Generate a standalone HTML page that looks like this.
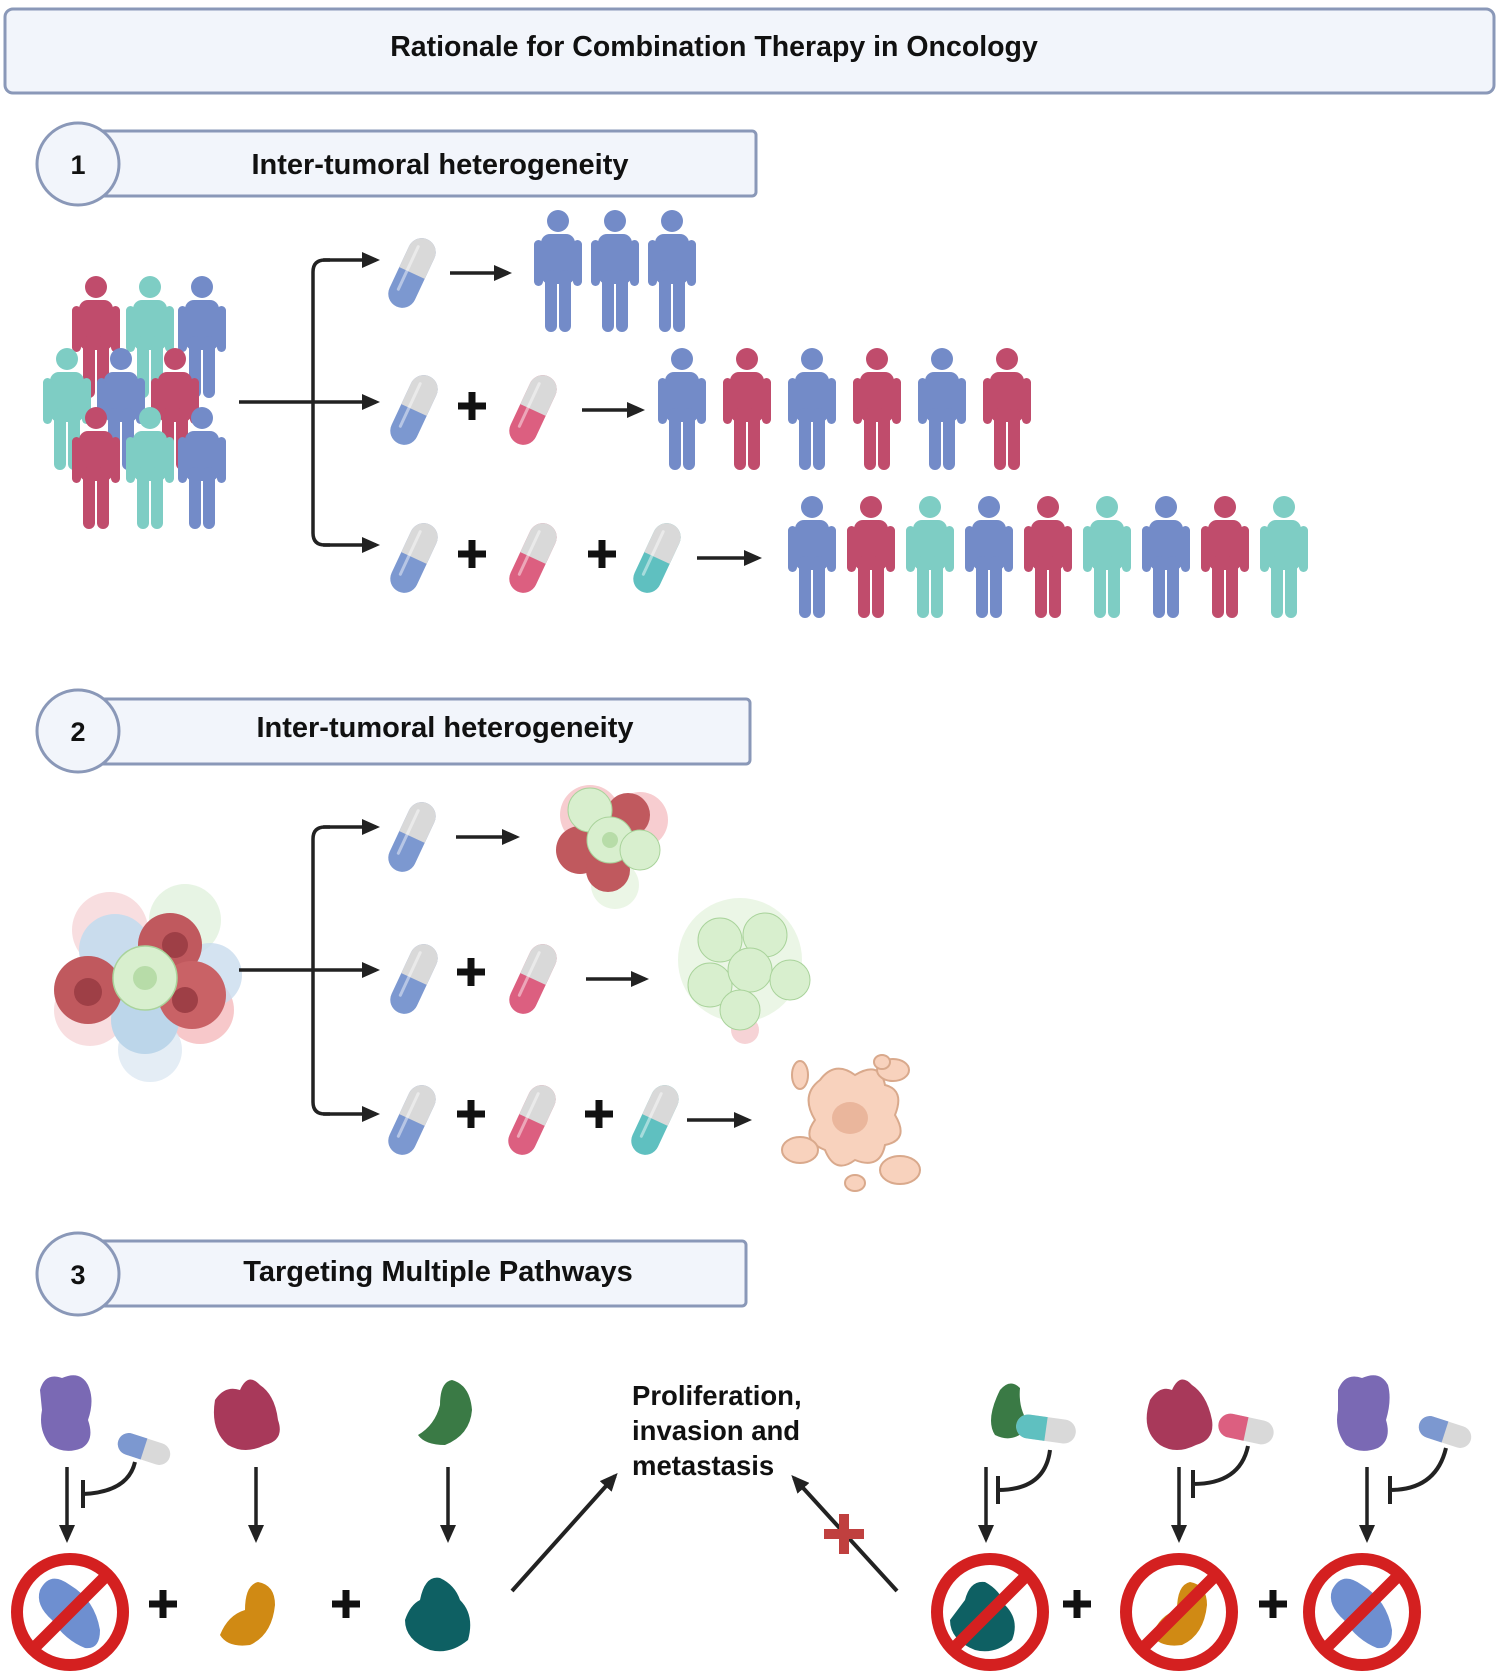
<!DOCTYPE html>
<html><head><meta charset="utf-8"><style>
html,body{margin:0;padding:0;background:#fff;}
svg{display:block;}
text{font-family:"Liberation Sans",Arial,sans-serif;font-weight:bold;fill:#111;}
</style></head><body>
<svg width="1500" height="1676" viewBox="0 0 1500 1676" xmlns="http://www.w3.org/2000/svg">
<defs>
<g id="person">
<circle cx="25" cy="11" r="11"/>
<rect x="8" y="24" width="34" height="50" rx="9"/>
<rect x="1" y="30" width="9" height="46" rx="4.5"/>
<rect x="40" y="30" width="9" height="46" rx="4.5"/>
<rect x="12" y="60" width="12" height="62" rx="6"/>
<rect x="26" y="60" width="12" height="62" rx="6"/>
</g>
<g id="pillbase">
<rect x="-14" y="-37" width="28" height="74" rx="14"/>
<path d="M-14,0 V-23 A14,14 0 0 1 14,-23 V0 Z" fill="#d9d9d9"/>
<rect x="-7" y="-28" width="3" height="50" rx="1.5" fill="#fff" opacity="0.45"/>
</g>
<marker id="ah" markerWidth="18" markerHeight="16" refX="14" refY="8" orient="auto" markerUnits="userSpaceOnUse" viewBox="0 0 18 16"><path d="M0,0 L18,8 L0,16 Z" fill="#222"/></marker>
<g id="plus"><rect x="-14" y="-3.5" width="28" height="7" fill="#111"/><rect x="-3.5" y="-14" width="7" height="28" fill="#111"/></g>
<g id="nosign"><circle r="53" fill="none" stroke="#d42020" stroke-width="12"/><line x1="37" y1="-37" x2="-37" y2="37" stroke="#d42020" stroke-width="12"/></g>
</defs>

<rect x="5" y="9" width="1489" height="84" rx="8" fill="#f2f5fb" stroke="#8a98b8" stroke-width="3"/>
<text x="714" y="56" font-size="28.5" text-anchor="middle">Rationale for Combination Therapy in Oncology</text>

<g stroke="#8a98b8" stroke-width="3" fill="#f2f5fb">
<rect x="96" y="131" width="660" height="65" rx="4"/>
<circle cx="78" cy="164" r="41"/>
<rect x="96" y="699" width="654" height="65" rx="4"/>
<circle cx="78" cy="731" r="41"/>
<rect x="96" y="1241" width="650" height="65" rx="4"/>
<circle cx="78" cy="1274" r="41"/>
</g>
<text x="78" y="174" font-size="27" text-anchor="middle">1</text>
<text x="440" y="174" font-size="29" text-anchor="middle">Inter-tumoral heterogeneity</text>
<text x="78" y="741" font-size="27" text-anchor="middle">2</text>
<text x="445" y="737" font-size="29" text-anchor="middle">Inter-tumoral heterogeneity</text>
<text x="78" y="1284" font-size="27" text-anchor="middle">3</text>
<text x="438" y="1281" font-size="29" text-anchor="middle">Targeting Multiple Pathways</text>

<g>
<use href="#person" x="71" y="276" fill="#c04c6c"/>
<use href="#person" x="125" y="276" fill="#7ecdc4"/>
<use href="#person" x="177" y="276" fill="#738bc8"/>
<use href="#person" x="42" y="348" fill="#7ecdc4"/>
<use href="#person" x="96" y="348" fill="#738bc8"/>
<use href="#person" x="150" y="348" fill="#c04c6c"/>
<use href="#person" x="71" y="407" fill="#c04c6c"/>
<use href="#person" x="125" y="407" fill="#7ecdc4"/>
<use href="#person" x="177" y="407" fill="#738bc8"/>
</g>
<g stroke="#222" stroke-width="3.5" fill="none">
<line x1="239" y1="402" x2="376" y2="402" marker-end="url(#ah)"/>
<path d="M330,260 H325 Q313,260 313,272 V533 Q313,545 325,545 H330"/>
<line x1="323" y1="260" x2="376" y2="260" marker-end="url(#ah)"/>
<line x1="323" y1="545" x2="376" y2="545" marker-end="url(#ah)"/>
<line x1="450" y1="273" x2="508" y2="273" marker-end="url(#ah)"/>
<line x1="582" y1="410" x2="641" y2="410" marker-end="url(#ah)"/>
<line x1="697" y1="558" x2="758" y2="558" marker-end="url(#ah)"/>
</g>
<use href="#pillbase" fill="#7c98d0" transform="translate(412,273) rotate(25)"/>
<use href="#pillbase" fill="#7c98d0" transform="translate(414,410) rotate(25)"/>
<use href="#plus" x="472" y="406"/>
<use href="#pillbase" fill="#dc5f80" transform="translate(533,410) rotate(25)"/>
<use href="#pillbase" fill="#7c98d0" transform="translate(414,558) rotate(25)"/>
<use href="#plus" x="472" y="554"/>
<use href="#pillbase" fill="#dc5f80" transform="translate(533,558) rotate(25)"/>
<use href="#plus" x="602" y="554"/>
<use href="#pillbase" fill="#5fc0c0" transform="translate(657,558) rotate(25)"/>
<g fill="#738bc8">
<use href="#person" x="533" y="210"/><use href="#person" x="590" y="210"/><use href="#person" x="647" y="210"/>
</g>
<use href="#person" x="657" y="348" fill="#738bc8"/>
<use href="#person" x="722" y="348" fill="#c04c6c"/>
<use href="#person" x="787" y="348" fill="#738bc8"/>
<use href="#person" x="852" y="348" fill="#c04c6c"/>
<use href="#person" x="917" y="348" fill="#738bc8"/>
<use href="#person" x="982" y="348" fill="#c04c6c"/>
<use href="#person" x="787" y="496" fill="#738bc8"/>
<use href="#person" x="846" y="496" fill="#c04c6c"/>
<use href="#person" x="905" y="496" fill="#7ecdc4"/>
<use href="#person" x="964" y="496" fill="#738bc8"/>
<use href="#person" x="1023" y="496" fill="#c04c6c"/>
<use href="#person" x="1082" y="496" fill="#7ecdc4"/>
<use href="#person" x="1141" y="496" fill="#738bc8"/>
<use href="#person" x="1200" y="496" fill="#c04c6c"/>
<use href="#person" x="1259" y="496" fill="#7ecdc4"/>

<g>
<circle cx="110" cy="930" r="38" fill="#f4c8cc" opacity="0.6"/>
<circle cx="185" cy="920" r="36" fill="#ddf0d8" opacity="0.7"/>
<circle cx="90" cy="1010" r="36" fill="#f4c8cc" opacity="0.6"/>
<circle cx="200" cy="1010" r="34" fill="#f4b0b4" opacity="0.7"/>
<circle cx="150" cy="1050" r="32" fill="#dde9f3" opacity="0.8"/>
<circle cx="115" cy="950" r="36" fill="#c9dced"/>
<circle cx="210" cy="975" r="32" fill="#c9dced" opacity="0.8"/>
<circle cx="145" cy="1020" r="34" fill="#bcd6ea"/>
<circle cx="88" cy="990" r="34" fill="#c0595e"/>
<circle cx="88" cy="992" r="14" fill="#9e3f46"/>
<circle cx="170" cy="945" r="32" fill="#c0595e"/>
<circle cx="175" cy="945" r="13" fill="#9e3f46"/>
<circle cx="192" cy="995" r="34" fill="#c96266"/>
<circle cx="185" cy="1000" r="13" fill="#9e3f46"/>
<circle cx="145" cy="978" r="32" fill="#d8efce" stroke="#a9d39b" stroke-width="1.5"/>
<circle cx="145" cy="978" r="12" fill="#b7dca8"/>
</g>
<g stroke="#222" stroke-width="3.5" fill="none">
<line x1="239" y1="970" x2="376" y2="970" marker-end="url(#ah)"/>
<path d="M330,827 H325 Q313,827 313,839 V1102 Q313,1114 325,1114 H330"/>
<line x1="323" y1="827" x2="376" y2="827" marker-end="url(#ah)"/>
<line x1="323" y1="1114" x2="376" y2="1114" marker-end="url(#ah)"/>
<line x1="456" y1="837" x2="516" y2="837" marker-end="url(#ah)"/>
<line x1="586" y1="979" x2="645" y2="979" marker-end="url(#ah)"/>
<line x1="687" y1="1120" x2="748" y2="1120" marker-end="url(#ah)"/>
</g>
<use href="#pillbase" fill="#7c98d0" transform="translate(412,837) rotate(25)"/>
<use href="#pillbase" fill="#7c98d0" transform="translate(414,979) rotate(25)"/>
<use href="#plus" x="471" y="972"/>
<use href="#pillbase" fill="#dc5f80" transform="translate(533,979) rotate(25)"/>
<use href="#pillbase" fill="#7c98d0" transform="translate(412,1120) rotate(25)"/>
<use href="#plus" x="471" y="1114"/>
<use href="#pillbase" fill="#dc5f80" transform="translate(532,1120) rotate(25)"/>
<use href="#plus" x="599" y="1114"/>
<use href="#pillbase" fill="#5fc0c0" transform="translate(655,1120) rotate(25)"/>
<g>
<circle cx="590" cy="815" r="30" fill="#f4b8bc" opacity="0.7"/>
<circle cx="640" cy="820" r="28" fill="#f4b8bc" opacity="0.7"/>
<circle cx="615" cy="885" r="24" fill="#e6f4e0" opacity="0.8"/>
<circle cx="580" cy="850" r="24" fill="#c0595e"/>
<circle cx="628" cy="815" r="22" fill="#c0595e"/>
<circle cx="608" cy="870" r="22" fill="#c0595e"/>
<circle cx="590" cy="810" r="22" fill="#d8efce" stroke="#a9d39b"/>
<circle cx="610" cy="840" r="23" fill="#d8efce" stroke="#a9d39b"/>
<circle cx="640" cy="850" r="20" fill="#d8efce" stroke="#a9d39b"/>
<circle cx="610" cy="840" r="8" fill="#b7dca8"/>
</g>
<g>
<circle cx="740" cy="960" r="62" fill="#e6f4e0" opacity="0.8"/>
<circle cx="745" cy="1030" r="14" fill="#f4c8cc" opacity="0.8"/>
<circle cx="720" cy="940" r="22" fill="#d8efce" stroke="#a9d39b"/>
<circle cx="765" cy="935" r="22" fill="#d8efce" stroke="#a9d39b"/>
<circle cx="710" cy="985" r="22" fill="#d8efce" stroke="#a9d39b"/>
<circle cx="750" cy="970" r="22" fill="#d8efce" stroke="#a9d39b"/>
<circle cx="790" cy="980" r="20" fill="#d8efce" stroke="#a9d39b"/>
<circle cx="740" cy="1010" r="20" fill="#d8efce" stroke="#a9d39b"/>
</g>
<g fill="#f8d2bd" stroke="#d9a98c" stroke-width="2">
<path d="M820,1080 Q835,1060 855,1075 Q880,1060 885,1085 Q905,1090 895,1115 Q910,1140 885,1145 Q880,1170 855,1160 Q835,1175 825,1150 Q800,1140 815,1120 Q800,1095 820,1080 Z"/>
<ellipse cx="800" cy="1075" rx="8" ry="14"/>
<ellipse cx="893" cy="1070" rx="16" ry="11"/>
<ellipse cx="800" cy="1150" rx="18" ry="13"/>
<ellipse cx="900" cy="1170" rx="20" ry="14"/>
<ellipse cx="855" cy="1183" rx="10" ry="8"/>
<ellipse cx="882" cy="1062" rx="8" ry="7"/>
</g>
<ellipse cx="850" cy="1118" rx="18" ry="16" fill="#eab69c"/>

<path d="M40,1390 Q45,1372 62,1378 Q80,1370 88,1385 Q95,1400 88,1420 Q95,1440 82,1448 Q65,1455 50,1445 Q38,1430 42,1410 Z" fill="#7a69b4"/>
<path d="M215,1400 Q225,1385 240,1390 Q248,1372 260,1385 Q275,1395 278,1420 Q285,1440 265,1445 Q245,1455 228,1445 Q210,1430 215,1400 Z" fill="#a8395a"/>
<path d="M452,1380 Q470,1385 472,1410 Q470,1435 445,1445 Q425,1445 418,1435 Q435,1425 440,1405 Q440,1382 452,1380 Z" fill="#3a7a45"/>
<path d="M1000,1390 Q1010,1378 1020,1388 Q1018,1410 1030,1425 Q1015,1445 995,1435 Q985,1420 1000,1390 Z" fill="#3a7a45"/>
<path d="M1150,1400 Q1160,1385 1172,1390 Q1180,1372 1192,1385 Q1207,1395 1212,1420 Q1215,1440 1196,1445 Q1176,1455 1160,1445 Q1140,1430 1150,1400 Z" fill="#a8395a"/>
<path d="M1338,1390 Q1345,1372 1362,1378 Q1380,1370 1388,1385 Q1392,1400 1386,1420 Q1392,1440 1378,1448 Q1360,1455 1346,1445 Q1334,1430 1338,1410 Z" fill="#7a69b4"/>
<g transform="translate(144,1449) rotate(18)"><rect x="-27" y="-11" width="54" height="22" rx="11" fill="#d9d9d9"/><path d="M0,-11 H-16 A11,11 0 0 0 -16,11 H0 Z" fill="#7c98d0"/></g>
<g transform="translate(1046,1429) rotate(8)"><rect x="-30" y="-12" width="60" height="24" rx="12" fill="#d9d9d9"/><path d="M0,-12 H-18 A12,12 0 0 0 -18,12 H0 Z" fill="#5fc0c0"/></g>
<g transform="translate(1246,1429) rotate(12)"><rect x="-28" y="-12" width="56" height="24" rx="12" fill="#d9d9d9"/><path d="M0,-12 H-16 A12,12 0 0 0 -16,12 H0 Z" fill="#dc5f80"/></g>
<g transform="translate(1445,1432) rotate(18)"><rect x="-27" y="-11" width="54" height="22" rx="11" fill="#d9d9d9"/><path d="M0,-11 H-16 A11,11 0 0 0 -16,11 H0 Z" fill="#7c98d0"/></g>
<g stroke="#222" stroke-width="3.5" fill="none">
<line x1="67" y1="1467" x2="67" y2="1539" marker-end="url(#ah)"/>
<line x1="256" y1="1467" x2="256" y2="1539" marker-end="url(#ah)"/>
<line x1="448" y1="1467" x2="448" y2="1539" marker-end="url(#ah)"/>
<line x1="986" y1="1467" x2="986" y2="1539" marker-end="url(#ah)"/>
<line x1="1179" y1="1467" x2="1179" y2="1539" marker-end="url(#ah)"/>
<line x1="1367" y1="1467" x2="1367" y2="1539" marker-end="url(#ah)"/>
<path d="M135,1462 Q128,1492 83,1494 M83,1480 V1508" stroke-width="4"/>
<path d="M1050,1450 Q1045,1490 998,1490 M998,1476 V1504" stroke-width="4"/>
<path d="M1248,1446 Q1240,1484 1193,1484 M1193,1470 V1498" stroke-width="4"/>
<path d="M1446,1448 Q1436,1490 1390,1490 M1390,1476 V1504" stroke-width="4"/>
<line x1="512" y1="1591" x2="615" y2="1476" marker-end="url(#ah)" stroke-width="4"/>
<line x1="897" y1="1591" x2="794" y2="1478" marker-end="url(#ah)" stroke-width="4"/>
</g>
<g transform="translate(844,1534)"><rect x="-20" y="-5" width="40" height="10" fill="#c0403f"/><rect x="-5" y="-20" width="10" height="40" fill="#c0403f"/></g>
<text font-size="27.5" x="632" y="1405">Proliferation,</text>
<text font-size="27.5" x="632" y="1440">invasion and</text>
<text font-size="27.5" x="632" y="1475">metastasis</text>
<path d="M40,1590 Q50,1570 70,1585 Q95,1600 100,1630 Q100,1650 85,1648 Q65,1640 52,1620 Q35,1605 40,1590 Z" fill="#6e8fd0"/>
<use href="#nosign" x="70" y="1612"/>
<use href="#plus" x="163" y="1604"/>
<path d="M258,1582 Q275,1585 275,1605 Q272,1635 250,1645 Q228,1648 220,1635 Q228,1615 245,1610 Q245,1585 258,1582 Z" fill="#d08a14"/>
<use href="#plus" x="346" y="1604"/>
<path d="M420,1600 Q425,1575 440,1578 Q455,1585 460,1600 Q475,1615 468,1640 Q450,1655 430,1650 Q405,1640 405,1620 Q410,1605 420,1600 Z" fill="#0e6063"/>
<path d="M965,1600 Q970,1580 985,1582 Q1000,1590 1005,1605 Q1020,1620 1012,1640 Q995,1655 975,1650 Q950,1640 950,1620 Z" fill="#0e6063"/>
<use href="#nosign" x="990" y="1612"/>
<use href="#plus" x="1077" y="1604"/>
<path d="M1190,1582 Q1207,1585 1207,1605 Q1204,1635 1182,1645 Q1160,1648 1152,1635 Q1160,1615 1177,1610 Q1177,1585 1190,1582 Z" fill="#d08a14"/>
<use href="#nosign" x="1179" y="1612"/>
<use href="#plus" x="1273" y="1604"/>
<path d="M1332,1590 Q1342,1570 1362,1585 Q1387,1600 1392,1630 Q1392,1650 1377,1648 Q1357,1640 1344,1620 Q1327,1605 1332,1590 Z" fill="#6e8fd0"/>
<use href="#nosign" x="1362" y="1612"/>
</svg>
</body></html>
